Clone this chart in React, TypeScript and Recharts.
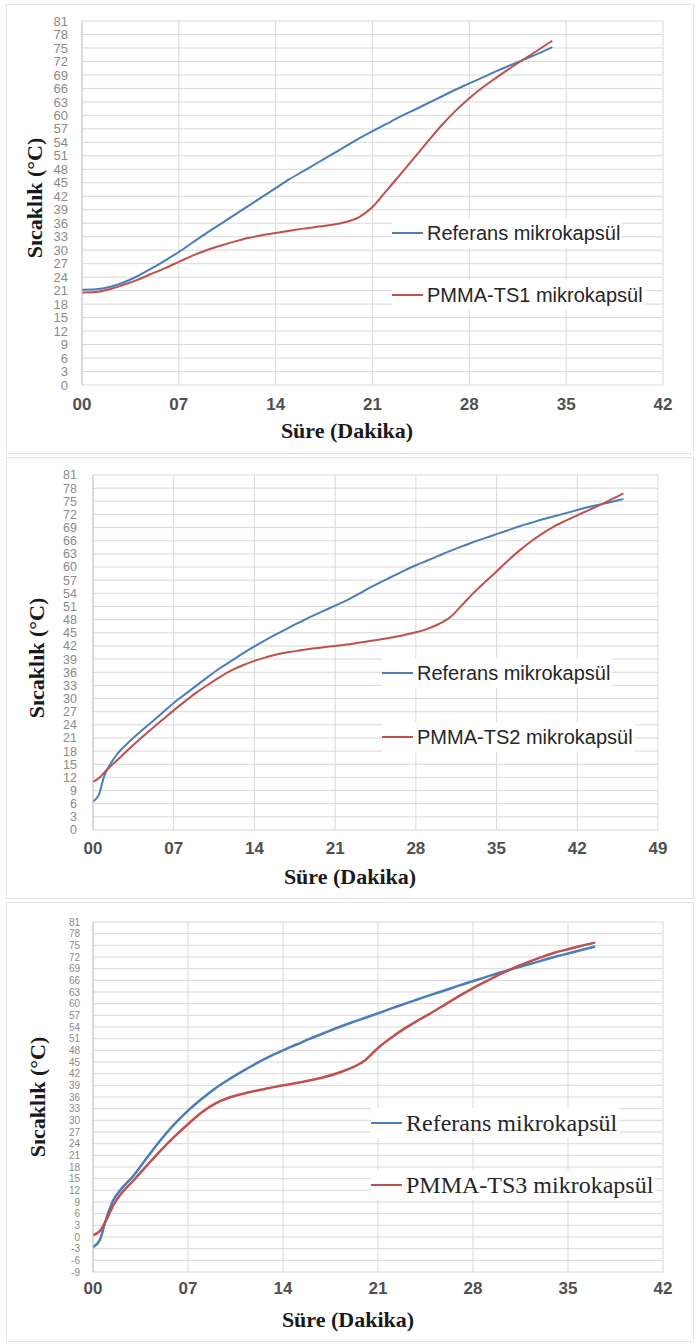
import React from "react";
import { LineChart, Line, XAxis, YAxis, CartesianGrid } from "recharts";

// ---------- DATA ----------
const P1_TIME = [0, 1, 2, 3, 4, 5, 6, 7, 8, 9, 10, 11, 12, 13, 14, 15, 16, 17, 18, 19, 20, 21, 22, 23, 24, 25, 26, 27, 28, 29, 30, 31, 32, 33, 34];
const P1_REF = [21.2, 21.3, 21.8, 22.8, 24.2, 25.9, 27.7, 29.6, 31.7, 33.8, 35.8, 37.8, 39.8, 41.8, 43.8, 45.8, 47.6, 49.4, 51.2, 53, 54.8, 56.5, 58.1, 59.7, 61.2, 62.7, 64.2, 65.7, 67.1, 68.5, 69.9, 71.2, 72.5, 73.8, 75.2];
const P1_PMMA = [20.6, 20.7, 21.3, 22.3, 23.4, 24.7, 26, 27.4, 28.8, 30, 31, 31.9, 32.7, 33.3, 33.8, 34.3, 34.8, 35.2, 35.6, 36.2, 37.3, 39.6, 43.2, 46.8, 50.5, 54.2, 57.8, 61, 63.8, 66.3, 68.5, 70.6, 72.6, 74.6, 76.6];

const P2_TIME = [0, 0.5, 1, 1.5, 2, 3, 4, 5, 6, 7, 8, 9, 10, 11, 12, 13, 14, 15, 16, 17, 18, 19, 20, 21, 22, 23, 24, 25, 26, 27, 28, 29, 30, 31, 32, 33, 34, 35, 36, 37, 38, 39, 40, 41, 42, 43, 44, 45, 46];
const P2_REF = [6.5, 8, 12.5, 15, 17, 19.8, 22.2, 24.4, 26.7, 29, 31, 33, 35, 36.9, 38.6, 40.3, 41.9, 43.4, 44.8, 46.2, 47.5, 48.8, 50, 51.2, 52.4, 53.8, 55.3, 56.6, 57.9, 59.2, 60.4, 61.5, 62.6, 63.7, 64.7, 65.7, 66.6, 67.5, 68.4, 69.3, 70.1, 70.9, 71.6, 72.3, 73, 73.7, 74.3, 74.9, 75.5];
const P2_PMMA = [11, 11.8, 13.2, 14.5, 15.7, 18.2, 20.6, 22.9, 25.1, 27.3, 29.4, 31.4, 33.2, 34.9, 36.4, 37.6, 38.6, 39.4, 40.1, 40.6, 41, 41.4, 41.7, 42, 42.3, 42.7, 43.1, 43.5, 44, 44.5, 45.1, 45.9, 47, 48.6, 51.3, 54.1, 56.6, 59, 61.5, 63.8, 65.9, 67.7, 69.3, 70.6, 71.8, 73, 74.2, 75.5, 76.8];

const P3_TIME = [0, 0.5, 1, 1.5, 2, 3, 4, 5, 6, 7, 8, 9, 10, 11, 12, 13, 14, 15, 16, 17, 18, 19, 20, 21, 22, 23, 24, 25, 26, 27, 28, 29, 30, 31, 32, 33, 34, 35, 36, 37];
const P3_REF = [-2.6, -0.8, 5, 9.5, 12, 15.8, 20.5, 25, 29, 32.5, 35.5, 38.2, 40.5, 42.6, 44.6, 46.4, 48, 49.5, 51, 52.4, 53.8, 55.1, 56.3, 57.5, 58.8, 60, 61.2, 62.4, 63.5, 64.7, 65.8, 66.9, 68, 69, 70, 71, 72, 72.9, 73.8, 74.7];
const P3_PMMA = [0.5, 1.5, 4.5, 8.2, 10.8, 14.6, 18.5, 22.3, 25.8, 29, 32, 34.3, 35.8, 36.8, 37.6, 38.3, 39, 39.6, 40.3, 41.1, 42.1, 43.4, 45.3, 48.6, 51.3, 53.7, 55.8, 57.8, 59.9, 62, 64, 65.8, 67.6, 69.2, 70.6, 71.9, 73.1, 74, 74.9, 75.7];

const X_TICKS_42 = [0, 7, 14, 21, 28, 35, 42];
const X_TICKS_49 = [0, 7, 14, 21, 28, 35, 42, 49];
const Y_TICKS_0_81 = Array.from({ length: 28 }, (_, i) => i * 3);
const Y_TICKS_M9_81 = Array.from({ length: 31 }, (_, i) => -9 + i * 3);

const REF_NAME = "Referans mikrokapsül";
const PMMA_NAMES = ["PMMA-TS1 mikrokapsül", "PMMA-TS2 mikrokapsül", "PMMA-TS3 mikrokapsül"];
const Y_TITLE = "Sıcaklık (°C)";
const X_TITLE = "Süre (Dakika)";

const BLUE = "#4a7ebb";
const RED = "#c0504d";

function build(time: number[], ref: number[], pmma: number[]) {
  return time.map((t, i) => ({ t, ref: ref[i], pmma: pmma[i] }));
}

const pad2 = (v: number) => (v < 10 ? "0" + v : String(v));

type PanelCfg = {
  top: number;
  height: number;
  boxTop: number;
  boxHeight: number;
  plotLeft: number;
  plotRight: number;
  plotTop: number;
  plotBottom: number;
  data: any[];
  xTicks: number[];
  xMax: number;
  yTicks: number[];
  yMin: number;
  yTickGap: number;
  yTickSize: number;
  xTickGap: number;
  pmmaName: string;
  legendX: number;
  legendY1: number;
  legendY2: number;
  legendFont: string;
  legendSize: number;
  yTitleX: number;
  yTitleY: number;
  xTitleX: number;
  xTitleY: number;
  strokeW: number;
};

const PANELS: PanelCfg[] = [
  {
    top: 0, height: 455, boxTop: 4, boxHeight: 450,
    plotLeft: 82, plotRight: 663, plotTop: 21, plotBottom: 385,
    data: build(P1_TIME, P1_REF, P1_PMMA), xTicks: X_TICKS_42, xMax: 42,
    yTicks: Y_TICKS_0_81, yMin: 0, yTickGap: 14, yTickSize: 13, xTickGap: 13,
    pmmaName: PMMA_NAMES[0], legendX: 392, legendY1: 233, legendY2: 295,
    legendFont: "'Liberation Sans', Arial, sans-serif", legendSize: 20,
    yTitleX: 35, yTitleY: 198, xTitleX: 347, xTitleY: 431, strokeW: 2,
  },
  {
    top: 457, height: 443, boxTop: 457, boxHeight: 442,
    plotLeft: 93, plotRight: 658, plotTop: 475, plotBottom: 830,
    data: build(P2_TIME, P2_REF, P2_PMMA), xTicks: X_TICKS_49, xMax: 49,
    yTicks: Y_TICKS_0_81, yMin: 0, yTickGap: 16, yTickSize: 12.5, xTickGap: 12,
    pmmaName: PMMA_NAMES[1], legendX: 382, legendY1: 673, legendY2: 737,
    legendFont: "'Liberation Sans', Arial, sans-serif", legendSize: 20,
    yTitleX: 37, yTitleY: 658, xTitleX: 350, xTitleY: 877, strokeW: 2,
  },
  {
    top: 902, height: 442, boxTop: 902, boxHeight: 440,
    plotLeft: 93, plotRight: 663, plotTop: 922, plotBottom: 1272,
    data: build(P3_TIME, P3_REF, P3_PMMA), xTicks: X_TICKS_42, xMax: 42,
    yTicks: Y_TICKS_M9_81, yMin: -9, yTickGap: 13, yTickSize: 10, xTickGap: 10,
    pmmaName: PMMA_NAMES[2], legendX: 371, legendY1: 1123, legendY2: 1185,
    legendFont: "'Liberation Serif', 'Times New Roman', serif", legendSize: 24,
    yTitleX: 38, yTitleY: 1097, xTitleX: 348, xTitleY: 1320, strokeW: 2.5,
  },
];

const TITLE_FONT = "'Liberation Serif', 'Times New Roman', serif";
const TICK_FONT = "'Liberation Sans', Arial, sans-serif";

function Panel({ p }: { p: PanelCfg }) {
  const W = 699;
  const xAxisH = 30;
  const margin = {
    top: p.plotTop - p.top,
    right: W - p.plotRight,
    left: 0,
    bottom: p.height - (p.plotBottom - p.top) - xAxisH,
  };
  const legendItems = [
    { name: REF_NAME, color: BLUE, y: p.legendY1 },
    { name: p.pmmaName, color: RED, y: p.legendY2 },
  ];
  return (
    <>
      <div
        style={{
          position: "absolute",
          left: 6,
          top: p.boxTop,
          width: 688,
          height: p.boxHeight,
          border: "1.5px solid #e4e4e4",
          boxSizing: "border-box",
          background: "#fff",
        }}
      />
      <div style={{ position: "absolute", left: 0, top: p.top }}>
        <LineChart width={W} height={p.height} data={p.data} margin={margin}>
          <CartesianGrid stroke="#d9d9d9" strokeWidth={1} />
          <XAxis
            dataKey="t"
            type="number"
            domain={[0, p.xMax]}
            ticks={p.xTicks}
            interval={0}
            height={xAxisH}
            tickFormatter={pad2}
            axisLine={false}
            tickLine={false}
            tickSize={0}
            tickMargin={p.xTickGap}
            tick={{ fill: "#505050", fontSize: 17, fontWeight: "bold", fontFamily: TICK_FONT }}
          />
          <YAxis
            type="number"
            domain={[p.yMin, 81]}
            ticks={p.yTicks}
            interval={0}
            width={p.plotLeft}
            axisLine={{ stroke: "#c8c8c8" }}
            tickLine={false}
            tickSize={0}
            tickMargin={p.yTickGap}
            tick={{ fill: "#8a8a8a", fontSize: p.yTickSize, fontFamily: TICK_FONT }}
          />
          <Line
            type="monotone"
            dataKey="ref"
            name={REF_NAME}
            stroke={BLUE}
            strokeWidth={p.strokeW}
            dot={false}
            isAnimationActive={false}
          />
          <Line
            type="monotone"
            dataKey="pmma"
            name={p.pmmaName}
            stroke={RED}
            strokeWidth={p.strokeW}
            dot={false}
            isAnimationActive={false}
          />
        </LineChart>
      </div>
      {legendItems.map((it) => (
        <div
          key={it.name}
          style={{
            position: "absolute",
            left: p.legendX,
            top: it.y - 15,
            height: 30,
            display: "flex",
            alignItems: "center",
            whiteSpace: "nowrap",
            background: "#fff",
            paddingRight: 2,
          }}
        >
          <div style={{ width: 31, height: 2, background: it.color, marginRight: 4 }} />
          <span
            style={{
              fontFamily: p.legendFont,
              fontSize: p.legendSize,
              color: "#262626",
            }}
          >
            {it.name}
          </span>
        </div>
      ))}
      <div
        style={{
          position: "absolute",
          left: p.yTitleX,
          top: p.yTitleY,
          transform: "translate(-50%, -50%) rotate(-90deg)",
          fontFamily: TITLE_FONT,
          fontWeight: "bold",
          fontSize: 22,
          whiteSpace: "nowrap",
          color: "#1a1a1a",
        }}
      >
        {Y_TITLE}
      </div>
      <div
        style={{
          position: "absolute",
          left: p.xTitleX,
          top: p.xTitleY,
          transform: "translate(-50%, -50%)",
          fontFamily: TITLE_FONT,
          fontWeight: "bold",
          fontSize: 22,
          whiteSpace: "nowrap",
          color: "#1a1a1a",
        }}
      >
        {X_TITLE}
      </div>
    </>
  );
}

export default function App() {
  return (
    <div
      style={{
        position: "absolute",
        left: 0,
        top: 0,
        width: 699,
        height: 1344,
        background: "#fff",
        overflow: "hidden",
      }}
    >
      {PANELS.map((p, i) => (
        <Panel key={i} p={p} />
      ))}
    </div>
  );
}
